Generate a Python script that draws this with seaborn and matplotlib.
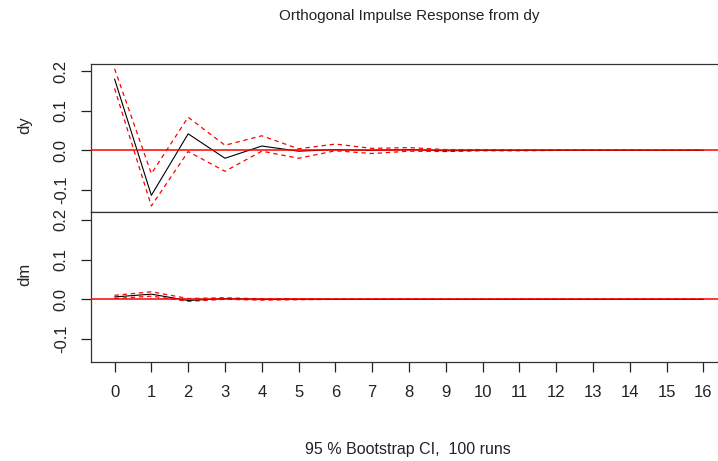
import pandas as pd
import matplotlib
matplotlib.use("Agg")
import matplotlib.pyplot as plt
import seaborn as sns

# ----------------------------- #
# Data: orthogonal IRF from dy, with 95 % bootstrap bands
# ----------------------------- #
horizon = list(range(17))

irf_dy = [0.181, -0.114, 0.042, -0.020, 0.011, -0.002, 0.002, 0.000, 0.002,
          -0.001, 0.000, 0.000, 0.000, 0.000, 0.000, 0.000, 0.000]
upper_dy = [0.207, -0.059, 0.084, 0.013, 0.037, 0.004, 0.016, 0.005, 0.007,
            0.002, 0.002, 0.001, 0.001, 0.001, 0.001, 0.000, 0.001]
lower_dy = [0.157, -0.141, -0.003, -0.053, -0.002, -0.020, -0.001, -0.008, -0.002,
            -0.003, -0.001, -0.001, 0.000, 0.000, 0.000, 0.000, 0.000]

irf_dm = [0.006, 0.013, -0.003, 0.002, 0.000, 0.000, 0.000, 0.000, 0.000,
          0.000, 0.000, 0.000, 0.000, 0.000, 0.000, 0.000, 0.000]
upper_dm = [0.010, 0.019, 0.002, 0.004, 0.001, 0.001, 0.000, 0.000, 0.000,
            0.000, 0.000, 0.000, 0.000, 0.000, 0.000, 0.000, 0.000]
lower_dm = [0.002, 0.008, -0.005, 0.000, -0.002, -0.001, 0.000, 0.000, 0.000,
            0.000, 0.000, 0.000, 0.000, 0.000, 0.000, 0.000, 0.000]

y_ticks = [-0.1, 0.0, 0.1, 0.2]
panels = [("dy", irf_dy, upper_dy, lower_dy), ("dm", irf_dm, upper_dm, lower_dm)]

sns.set_style("ticks")
plt.rcParams["font.family"] = ["Liberation Sans", "DejaVu Sans"]
plt.rcParams["axes.unicode_minus"] = False

W, H = 718, 461
fig = plt.figure(figsize=(W / 100, H / 100), dpi=100)

# pixel layout of the two stacked panels (the right edge runs past the figure)
left_px, right_px = 91, 727
tops = [64, 212.3]
bottoms = [212.3, 361.7]

for i, (name, irf, up, lo) in enumerate(panels):
    ax = fig.add_axes([left_px / W, 1 - bottoms[i] / H,
                       (right_px - left_px) / W, (bottoms[i] - tops[i]) / H])
    df = pd.DataFrame({"h": horizon, "irf": irf, "upper": up, "lower": lo})

    sns.lineplot(data=df, x="h", y="upper", ax=ax, color="red", lw=0.9,
                 zorder=2).lines[-1].set_dashes((3.5, 3))
    sns.lineplot(data=df, x="h", y="lower", ax=ax, color="red", lw=0.9,
                 zorder=2).lines[-1].set_dashes((3.5, 3))
    sns.lineplot(data=df, x="h", y="irf", ax=ax, color="black", lw=0.8, zorder=3)
    # zero line sits over the near-zero tail, as in the original
    ax.axhline(0, color="red", lw=1.1, zorder=4)

    ax.set_xlim(-0.64, 16.64)
    ax.set_ylim(-0.157, 0.219)
    ax.set_yticks(y_ticks)
    ax.set_yticklabels([f"{t:.1f}" for t in y_ticks], rotation=90, va="center")
    ax.set_xlabel("")
    ax.set_ylabel("")
    ax.tick_params(axis="y", length=7, width=0.9, pad=9, labelsize=12,
                   colors="#222222")
    for sp in ax.spines.values():
        sp.set_color("#333333")
        sp.set_linewidth(0.9)

    if i == 0:
        ax.set_xticks([])
    else:
        ax.set_xticks(horizon)
        ax.tick_params(axis="x", length=7, width=0.9, pad=10, labelsize=12,
                       colors="#222222")

    centre_y = (tops[i] + bottoms[i]) / 2 - 13
    fig.text(25 / W, 1 - centre_y / H, name, rotation=90, ha="center",
             va="center", fontsize=12)

fig.text(409 / W, 1 - 16 / H, "Orthogonal Impulse Response from dy",
         ha="center", va="center", fontsize=11, color="#222222")
fig.text(408 / W, 1 - 449 / H, "95 % Bootstrap CI,  100 runs",
         ha="center", va="center", fontsize=11.5, color="#222222")

fig.savefig("out.png", dpi=100)
